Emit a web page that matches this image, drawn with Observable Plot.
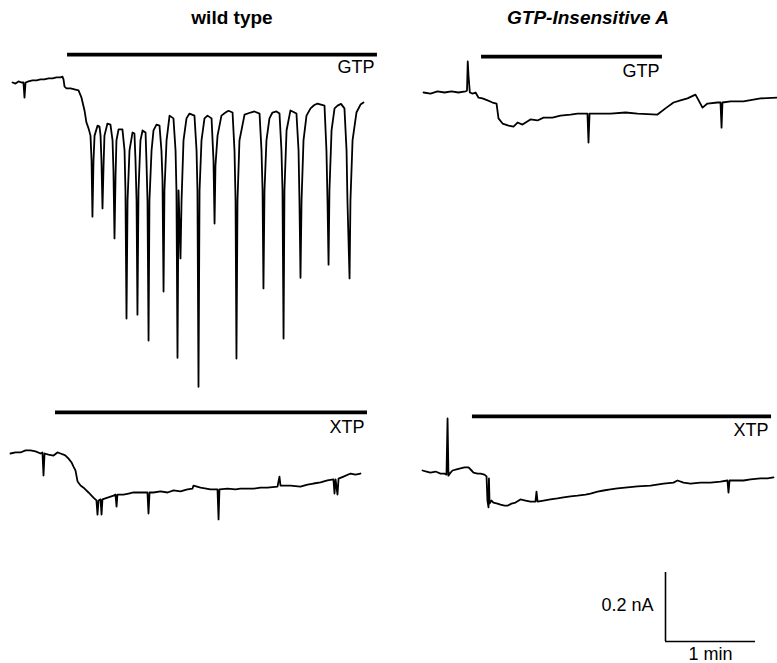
<!DOCTYPE html>
<html>
<head>
<meta charset="utf-8">
<script src="https://cdn.jsdelivr.net/npm/d3@7"></script>
<script src="https://cdn.jsdelivr.net/npm/@observablehq/plot@0.6"></script>
<style>
  html, body { margin: 0; padding: 0; background: #fff; }
  #fig { position: relative; width: 777px; height: 663px; background: #fff; overflow: hidden;
         font-family: "Liberation Sans", Arial, Helvetica, sans-serif; }
  #fig svg { position: absolute; overflow: visible; background: transparent; }
  .title { position: absolute; top: 8px; width: 240px; text-align: center; font-size: 19px;
           line-height: 19px; font-weight: bold; color: #000; }
</style>
</head>
<body>
<div id="fig">
  <div class="title" id="t1"></div>
  <div class="title" id="t2"></div>
</div>
<script>
// ---------------- DATA (time in s, current in pA, relative to pre-application baseline) -------------
const columnTitles = ["wild type", "GTP-Insensitive A"];
const drugLabels = ["GTP", "GTP", "XTP", "XTP"];

// drug application periods [start, end] in s
const wtGtpBar = [36.7, 243.3];
const insGtpBar = [38.7, 159.3];
const wtXtpBar = [30, 238];
const insXtpBar = [33.3, 232.7];

// wild type, GTP
const wtGtpTrace = [
  [0,0],[2,-3],[4,3],[6,0],[7.3,0],[8,-44],[8.7,0],[10.7,3],[13.3,6],[16,6],[18.7,9],[21.3,9],[24,12],
  [26.7,12],[29.3,15],[32,15],[33.3,17],[34,9],[34.7,-12],[36,-17],[38.7,-17],[41.3,-20],[44,-23],
  [46,-44],[48,-81],[49.3,-116],[50.7,-133],
  [52,-154],[52.7,-226],[53.3,-389],[54,-226],[54.7,-154],[56.7,-125],
  [58,-128],[58.7,-154],[59.3,-226],[60,-365],[60.7,-241],[61.3,-154],[63.3,-119],
  [65.3,-122],[66.7,-168],[67.3,-255],[68,-452],[68.7,-270],[69.3,-168],[70.7,-136],
  [73.3,-136],[74.7,-197],[75.3,-313],[76,-684],[76.7,-342],[78,-197],[80,-145],
  [81.3,-148],[82,-226],[82.7,-342],[83.3,-673],[84,-313],[85.3,-168],[86.7,-139],
  [88.7,-145],[89.3,-226],[90,-342],[90.7,-748],[91.3,-342],[92.7,-197],[94,-139],[96,-122],
  [98,-125],[99.3,-197],[100,-284],[100.7,-606],[101.3,-313],[102.7,-168],[104.7,-96],
  [107.3,-104],[108.7,-197],[109.3,-313],[110,-798],[110.7,-313],[112,-510],[112.7,-342],[114,-168],[116,-104],[118,-90],
  [121.3,-96],[122.7,-197],[123.3,-313],[124,-882],[124.7,-313],[126,-168],[128,-104],[130,-96],
  [132.7,-104],[134,-226],[134.7,-409],[135.3,-241],[136.7,-154],[139.3,-96],[142,-87],[144,-82],
  [146.7,-87],[148,-197],[148.7,-342],[149.3,-800],[150,-342],[151.3,-168],[154.7,-93],[158.7,-87],[161.3,-84],
  [164.7,-90],[166,-197],[166.7,-313],[167.3,-597],[168,-313],[169.3,-168],[171.3,-104],[173.3,-87],[176,-84],
  [178,-90],[179.3,-197],[180,-313],[180.7,-742],[181.3,-313],[182.7,-139],[185.3,-81],
  [189.3,-90],[190.7,-197],[191.3,-342],[192,-566],[192.7,-342],[194,-168],[196,-96],[198.7,-75],[201,-66],[203.3,-61],
  [208,-67],[209.3,-197],[210,-342],[210.7,-528],[211.3,-313],[212.7,-139],[214.7,-75],[216.7,-67],[219,-62],
  [221.3,-75],[222.7,-197],[223.3,-342],[224.7,-568],[225.3,-342],[226.7,-168],[229.3,-87],[232,-64],[234,-58]
];

// GTP-insensitive A, GTP
const insGtpTrace = [
  [0,0],[4.7,-3],[9.3,3],[14,0],[18.7,3],[23.3,0],[28,3],[29,6],[29.5,90],[30,49],[30.9,0],[32.7,-3],
  [34.7,0],[36.7,-15],[39.3,-17],[42.7,-23],[46,-29],[48.7,-32],[50,-75],[52.7,-90],[56.7,-96],[60,-99],
  [62.7,-87],[66,-93],[71.3,-78],[76,-81],[80,-73],[86,-73],[91.3,-67],[98,-64],[102.7,-61],[109.3,-61],
  [110,-145],[110.7,-61],[118,-61],[124.7,-61],[134.7,-58],[142.7,-61],[156,-64],[161.3,-46],[166.7,-29],
  [171.3,-23],[176,-17],[181.3,-6],[182.7,-17],[186,-44],[189.3,-32],[196,-29],[198,-29],[198.7,-102],
  [199.3,-29],[204.7,-26],[213.3,-26],[224.7,-17],[236,-15]
];

// wild type, XTP
const wtXtpTrace = [
  [0,0],[3.3,3],[6.7,3],[10,9],[13.3,9],[16.7,6],[20,0],[21.3,3],[22,-64],[22.7,0],[25.3,-3],[28.7,-6],
  [31.3,3],[33.3,0],[35.3,-3],[36.7,-6],[38.7,-15],[40.7,-26],[42,-38],[43.3,-49],[44.7,-81],[46.7,-93],
  [48.7,-99],[52,-113],[55.3,-128],[57.3,-136],[58,-177],[58.7,-136],[60,-133],[60.7,-177],[61.3,-133],
  [64.7,-128],[68.7,-122],[70,-119],[70.7,-154],[71.3,-119],[75.3,-119],[78.7,-116],[82,-113],[86.7,-113],
  [91.3,-113],[92,-174],[92.7,-113],[95.3,-113],[100,-110],[104.7,-113],[108.7,-107],[113.3,-110],
  [118,-104],[121.3,-102],[122,-93],[126.7,-99],[133.3,-104],[138,-104],[138.7,-191],[139.3,-104],
  [144.7,-102],[150,-104],[153.3,-102],[162,-102],[166.7,-99],[171.3,-99],[178,-96],[179.3,-67],[180,-93],
  [186.7,-93],[193.3,-96],[198,-90],[202,-87],[206.7,-84],[211.3,-78],[215.3,-75],[216,-116],[216.7,-75],
  [218,-119],[218.7,-73],[222,-67],[226.7,-58],[230,-61],[233.3,-58]
];

// GTP-insensitive A, XTP
const insXtpTrace = [
  [0,0],[2.7,-3],[5.3,-6],[8.7,-3],[12,-9],[14.7,-9],[16,-12],[16.7,151],[17.3,-15],[18.7,-6],[20,0],
  [22.7,3],[25.3,6],[28,9],[30.7,9],[32.7,0],[34,-6],[36.7,-9],[38.7,-9],[41.3,-12],[42.7,-17],[43.3,-87],
  [44,-107],[44.3,-23],[44.7,-96],[46,-87],[47.3,-93],[50,-96],[52,-99],[54.7,-102],[56.7,-102],[59.3,-96],
  [62,-93],[65.3,-84],[68.7,-87],[72,-90],[75.3,-90],[76,-61],[76.7,-90],[80.7,-87],[85.3,-84],[90,-81],
  [94,-78],[98.7,-75],[103.3,-73],[108.7,-70],[112,-67],[116.7,-61],[120.7,-58],[125.3,-55],[130,-52],
  [136.7,-49],[143.3,-46],[152,-44],[160.7,-38],[167.3,-35],[170,-29],[174,-35],[178.7,-38],[185.3,-35],
  [192,-35],[198.7,-32],[203.3,-29],[204,-64],[204.7,-29],[208.7,-29],[214,-29],[218.7,-26],[225.3,-23],
  [230,-23],[234,-20]
];

// calibration bar
const scaleTime = 60;      // s  (1 min)
const scaleCurrent = 200;  // pA (0.2 nA)
const scaleLabels = ["1 min", "0.2 nA"];

// ---------------- LAYOUT ----------------
const SEC_PX = 1.5;   // px per second
const PA_PX = 0.345;  // px per pA
const FONT = "'Liberation Sans', Arial, Helvetica, sans-serif";
const fig = document.getElementById("fig");

document.getElementById("t1").textContent = columnTitles[0];
document.getElementById("t1").style.left = (232 - 120) + "px";
const t2 = document.getElementById("t2");
t2.textContent = columnTitles[1];
t2.style.left = (588 - 120) + "px";
t2.style.fontStyle = "italic";

function scales(box, origin) {
  return {
    x: {domain: [(box.left - origin[0]) / SEC_PX, (box.left + box.width - origin[0]) / SEC_PX], range: [0, box.width], axis: null},
    y: {domain: [(origin[1] - box.top - box.height) / PA_PX, (origin[1] - box.top) / PA_PX], range: [box.height, 0], axis: null}
  };
}

function place(svg, box) {
  svg.style.left = box.left + "px";
  svg.style.top = box.top + "px";
  fig.appendChild(svg);
}

function panel({box, origin, trace, bar, barLevel, label, labelDy}) {
  const data = trace.map(([t, i]) => ({t, i}));
  const barData = [{x1: bar[0], x2: bar[1], y: barLevel, label}];
  const svg = Plot.plot({
    width: box.width, height: box.height, margin: 0,
    style: {fontFamily: FONT, background: "transparent", overflow: "visible"},
    ...scales(box, origin),
    marks: [
      Plot.line(data, {x: "t", y: "i", stroke: "#000", strokeWidth: 1.8, strokeLinejoin: "round", curve: "linear"}),
      Plot.ruleY(barData, {y: "y", x1: "x1", x2: "x2", stroke: "#000", strokeWidth: 3.8}),
      Plot.text(barData, {x: "x2", y: "y", text: "label", textAnchor: "end", dx: -3, dy: labelDy, fontSize: 18, fill: "#000"})
    ]
  });
  place(svg, box);
}

panel({box: {left: 0, top: 40, width: 390, height: 360}, origin: [12, 82], trace: wtGtpTrace,
       bar: wtGtpBar, barLevel: 81, label: drugLabels[0], labelDy: 13});
panel({box: {left: 400, top: 40, width: 377, height: 140}, origin: [423, 92], trace: insGtpTrace,
       bar: insGtpBar, barLevel: 104, label: drugLabels[1], labelDy: 15});
panel({box: {left: 0, top: 395, width: 390, height: 140}, origin: [10, 453], trace: wtXtpTrace,
       bar: wtXtpBar, barLevel: 119, label: drugLabels[2], labelDy: 15});
panel({box: {left: 400, top: 395, width: 377, height: 140}, origin: [422, 470], trace: insXtpTrace,
       bar: insXtpBar, barLevel: 157, label: drugLabels[3], labelDy: 14});

// calibration bar
{
  const box = {left: 560, top: 560, width: 217, height: 103};
  const origin = [665, 641];
  const svg = Plot.plot({
    width: box.width, height: box.height, margin: 0,
    style: {fontFamily: FONT, background: "transparent", overflow: "visible"},
    ...scales(box, origin),
    marks: [
      Plot.ruleX([0], {y1: 0, y2: scaleCurrent, stroke: "#000", strokeWidth: 1.6}),
      Plot.ruleY([0], {x1: 0, x2: scaleTime, stroke: "#000", strokeWidth: 1.6}),
      Plot.text([scaleLabels[0]], {x: scaleTime / 2, y: 0, text: d => d, dy: 13, fontSize: 18, fill: "#000"}),
      Plot.text([scaleLabels[1]], {x: 0, y: scaleCurrent / 2, text: d => d, dx: -12, dy: -2, textAnchor: "end", fontSize: 18, fill: "#000"})
    ]
  });
  place(svg, box);
}
</script>
</body>
</html>
